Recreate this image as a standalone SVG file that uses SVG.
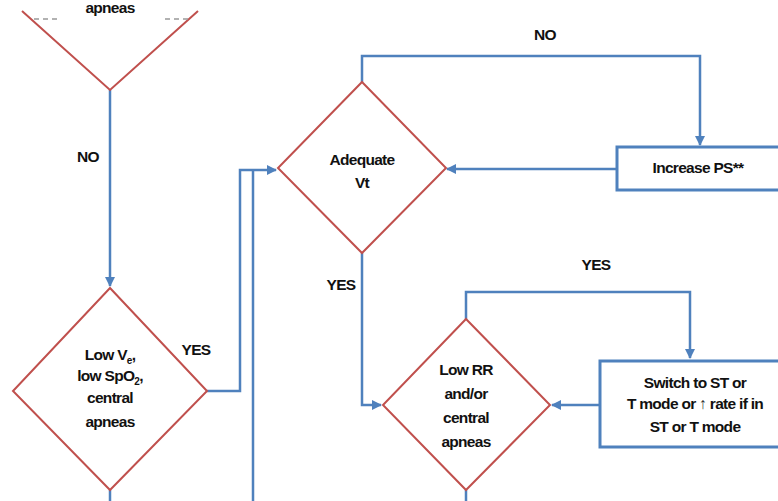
<svg xmlns="http://www.w3.org/2000/svg" width="778" height="501" viewBox="0 0 778 501">
<defs>
<style>
.d{fill:#fff;stroke:#c0504d;stroke-width:2}
.b{fill:#fff;stroke:#4f81bd;stroke-width:3}
.c{fill:none;stroke:#4f81bd;stroke-width:2.5}
.t{font-family:"Liberation Sans Narrow","Liberation Sans",Arial,sans-serif;font-weight:bold;font-size:15.5px;fill:#111;text-anchor:middle;letter-spacing:-0.7px}
.ds{stroke:#999;stroke-width:1.5;stroke-dasharray:5 4}
</style>
<marker id="ah" viewBox="0 0 10 10" refX="9" refY="5" markerWidth="4" markerHeight="4" orient="auto" markerUnits="strokeWidth">
<path d="M0,0 L10,5 L0,10 z" fill="#4f81bd"/>
</marker>
</defs>
<rect width="778" height="501" fill="#fff"/>

<g id="connectors">
<path class="c" d="M110,90 V286" marker-end="url(#ah)"/>
<path class="c" d="M207,391 H240 V170 H276" marker-end="url(#ah)"/>
<path class="c" d="M253,501 V170"/>
<path class="c" d="M110,490 V501"/>
<path class="c" d="M362,82 V56 H700 V145" marker-end="url(#ah)"/>
<path class="c" d="M617,169 H447" marker-end="url(#ah)"/>
<path class="c" d="M362,253 V405 H381" marker-end="url(#ah)"/>
<path class="c" d="M466,319 V292 H690 V358" marker-end="url(#ah)"/>
<path class="c" d="M600,405 H552" marker-end="url(#ah)"/>
<path class="c" d="M466,490 V501"/>
</g>

<g id="labels">
<text class="t" x="88" y="162">NO</text>
<text class="t" x="196" y="355">YES</text>
<text class="t" x="545" y="40">NO</text>
<text class="t" x="341" y="290">YES</text>
<text class="t" x="596" y="270">YES</text>
</g>

<g id="top-diamond">
<path class="d" d="M22,11 L110,90 L198,11"/>
<line class="ds" x1="34" y1="19" x2="58" y2="19"/>
<line class="ds" x1="165" y1="19" x2="189" y2="19"/>
<text class="t" x="110" y="13">apneas</text>
</g>

<g id="low-ve">
<path class="d" d="M110,288 L207,391 L110,490 L13,391 Z"/>
<text class="t" x="110" y="360">Low V<tspan font-size="10" dy="4">e</tspan><tspan dy="-4">,</tspan></text>
<text class="t" x="110" y="381">low SpO<tspan font-size="10" dy="4">2</tspan><tspan dy="-4">,</tspan></text>
<text class="t" x="110" y="403">central</text>
<text class="t" x="110" y="427">apneas</text>
</g>

<g id="adequate-vt">
<path class="d" d="M362,82 L446,168 L362,253 L278,168 Z"/>
<text class="t" x="362" y="165">Adequate</text>
<text class="t" x="362" y="188">Vt</text>
</g>

<g id="increase-ps">
<rect class="b" x="617" y="147" width="180" height="43"/>
<text class="t" x="698" y="173">Increase PS**</text>
</g>

<g id="low-rr">
<path class="d" d="M466,319 L550,405 L466,490 L383,405 Z"/>
<text class="t" x="466" y="375">Low RR</text>
<text class="t" x="466" y="399">and/or</text>
<text class="t" x="466" y="423">central</text>
<text class="t" x="466" y="447">apneas</text>
</g>

<g id="switch-mode">
<rect class="b" x="600" y="361" width="200" height="86"/>
<text class="t" x="695" y="388">Switch to ST or</text>
<text class="t" x="695" y="409">T mode or <tspan fill="#333">↑</tspan> rate if in</text>
<text class="t" x="695" y="432">ST or T mode</text>
</g>
</svg>
